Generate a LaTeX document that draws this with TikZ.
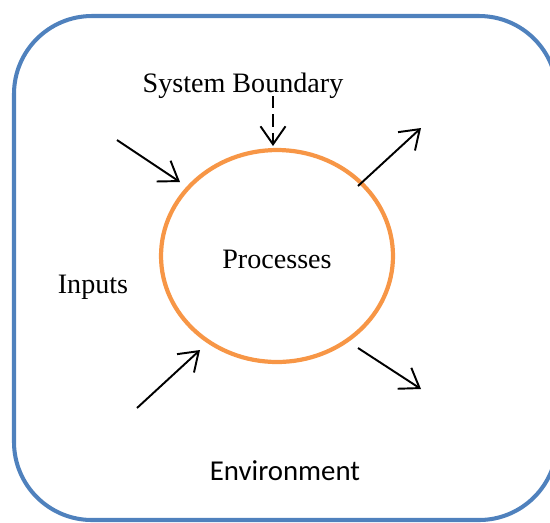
\documentclass[tikz,border=0pt]{standalone}
\usepackage{fontspec}
\setmainfont{Liberation Serif}
\newfontfamily\envfont{Carlito}
\usetikzlibrary{arrows.meta}
\usetikzlibrary{shapes.geometric}
\definecolor{bndblue}{HTML}{4F81BD}
\definecolor{procorange}{HTML}{F79646}
\tikzset{%
  flowarrow/.style = {-{Straight Barb[length=0.36cm,width=0.5cm,line width=1.1pt]},line width=1.1pt},
  boundarrow/.style = {flowarrow,dash pattern=on 7pt off 3.5pt},
  proc/.style = {ellipse,draw=procorange,line width=2.4pt,
        minimum width=4.64cm,minimum height=4.24cm,inner sep=0pt},
  lbl/.style = {font=\fontsize{16}{19}\selectfont,inner sep=0pt,anchor=base}
}

\begin{document}
\begin{tikzpicture}[x=0.02cm,y=-0.02cm]
        \useasboundingbox (0,0) rectangle (550,522);
        \draw[bndblue,line width=2.3pt,rounded corners=1.56cm] (14,16) rectangle (557,520);

        \node[proc] (p) at (277,256) {};
        \node[lbl] (p-text) at (277,268) {Processes};
        \node[lbl] (sb) at (243,92) {System Boundary};
        \node[lbl] (in) at (93,293) {Inputs};
        \node[lbl,font=\envfont\fontsize{16.4}{19}\selectfont] (env) at (285,480) {Environment};

        \coordinate (in-1) at (117,140);
        \coordinate (in-1e) at (180,182);
        \coordinate (in-2) at (137,408);
        \coordinate (in-2e) at (200,350);
        \coordinate (out-1) at (358,186);
        \coordinate (out-1e) at (421,128);
        \coordinate (out-2) at (358,348);
        \coordinate (out-2e) at (421,389);
        \coordinate (sb-s) at (273,96);
        \coordinate (sb-e) at (273,146);

        \draw[flowarrow] (in-1) -- (in-1e);
        \draw[flowarrow] (in-2) -- (in-2e);
        \draw[flowarrow] (out-1) -- (out-1e);
        \draw[flowarrow] (out-2) -- (out-2e);
        \draw[boundarrow] (sb-s) -- (sb-e);

    \end{tikzpicture}
\end{document}
